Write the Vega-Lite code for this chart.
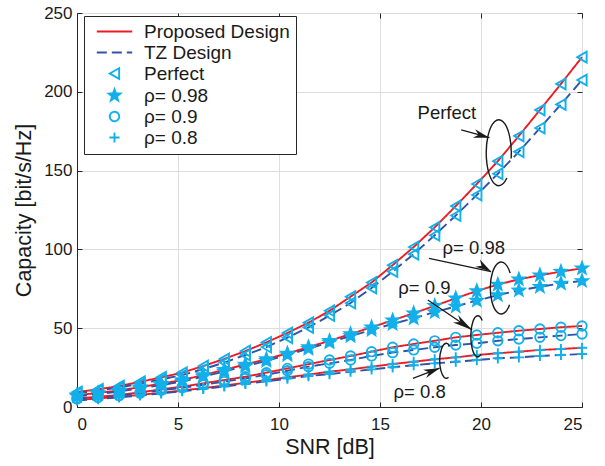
{
  "$schema": "https://vega.github.io/schema/vega-lite/v6.json",
  "width": 505,
  "height": 394,
  "autosize": "none",
  "padding": {"left": 77, "top": 13, "right": 23, "bottom": 59},
  "background": "white",
  "datasets": {
    "curves": [
      {"s":0,"c":9.5,"d":"Proposed Design","k":"Perfect"},{"s":1.042,"c":11.2,"d":"Proposed Design","k":"Perfect"},{"s":2.083,"c":13.3,"d":"Proposed Design","k":"Perfect"},{"s":3.125,"c":16,"d":"Proposed Design","k":"Perfect"},{"s":4.167,"c":18.8,"d":"Proposed Design","k":"Perfect"},{"s":5.208,"c":21.8,"d":"Proposed Design","k":"Perfect"},{"s":6.25,"c":26,"d":"Proposed Design","k":"Perfect"},{"s":7.292,"c":30.5,"d":"Proposed Design","k":"Perfect"},{"s":8.333,"c":35.5,"d":"Proposed Design","k":"Perfect"},{"s":9.375,"c":41,"d":"Proposed Design","k":"Perfect"},{"s":10.417,"c":47,"d":"Proposed Design","k":"Perfect"},{"s":11.458,"c":53.5,"d":"Proposed Design","k":"Perfect"},{"s":12.5,"c":61,"d":"Proposed Design","k":"Perfect"},{"s":13.542,"c":70,"d":"Proposed Design","k":"Perfect"},{"s":14.583,"c":79,"d":"Proposed Design","k":"Perfect"},{"s":15.625,"c":90,"d":"Proposed Design","k":"Perfect"},{"s":16.667,"c":101.5,"d":"Proposed Design","k":"Perfect"},{"s":17.708,"c":114,"d":"Proposed Design","k":"Perfect"},{"s":18.75,"c":127.5,"d":"Proposed Design","k":"Perfect"},{"s":19.792,"c":141.5,"d":"Proposed Design","k":"Perfect"},{"s":20.833,"c":156,"d":"Proposed Design","k":"Perfect"},{"s":21.875,"c":172,"d":"Proposed Design","k":"Perfect"},{"s":22.917,"c":188.5,"d":"Proposed Design","k":"Perfect"},{"s":23.958,"c":205,"d":"Proposed Design","k":"Perfect"},{"s":25,"c":222,"d":"Proposed Design","k":"Perfect"},
      {"s":0,"c":8.8,"d":"TZ Design","k":"Perfect"},{"s":1.042,"c":10.4,"d":"TZ Design","k":"Perfect"},{"s":2.083,"c":12.4,"d":"TZ Design","k":"Perfect"},{"s":3.125,"c":14.8,"d":"TZ Design","k":"Perfect"},{"s":4.167,"c":17.5,"d":"TZ Design","k":"Perfect"},{"s":5.208,"c":20.3,"d":"TZ Design","k":"Perfect"},{"s":6.25,"c":24,"d":"TZ Design","k":"Perfect"},{"s":7.292,"c":28.2,"d":"TZ Design","k":"Perfect"},{"s":8.333,"c":33,"d":"TZ Design","k":"Perfect"},{"s":9.375,"c":38,"d":"TZ Design","k":"Perfect"},{"s":10.417,"c":44,"d":"TZ Design","k":"Perfect"},{"s":11.458,"c":50.5,"d":"TZ Design","k":"Perfect"},{"s":12.5,"c":58,"d":"TZ Design","k":"Perfect"},{"s":13.542,"c":66,"d":"TZ Design","k":"Perfect"},{"s":14.583,"c":75.5,"d":"TZ Design","k":"Perfect"},{"s":15.625,"c":86,"d":"TZ Design","k":"Perfect"},{"s":16.667,"c":97,"d":"TZ Design","k":"Perfect"},{"s":17.708,"c":109,"d":"TZ Design","k":"Perfect"},{"s":18.75,"c":121.5,"d":"TZ Design","k":"Perfect"},{"s":19.792,"c":134.5,"d":"TZ Design","k":"Perfect"},{"s":20.833,"c":148,"d":"TZ Design","k":"Perfect"},{"s":21.875,"c":162,"d":"TZ Design","k":"Perfect"},{"s":22.917,"c":177,"d":"TZ Design","k":"Perfect"},{"s":23.958,"c":192,"d":"TZ Design","k":"Perfect"},{"s":25,"c":207.5,"d":"TZ Design","k":"Perfect"},
      {"s":0,"c":7.5,"d":"Proposed Design","k":"ρ= 0.98"},{"s":1.042,"c":8.9,"d":"Proposed Design","k":"ρ= 0.98"},{"s":2.083,"c":10.5,"d":"Proposed Design","k":"ρ= 0.98"},{"s":3.125,"c":12.6,"d":"Proposed Design","k":"ρ= 0.98"},{"s":4.167,"c":14.8,"d":"Proposed Design","k":"ρ= 0.98"},{"s":5.208,"c":17.1,"d":"Proposed Design","k":"ρ= 0.98"},{"s":6.25,"c":20.3,"d":"Proposed Design","k":"ρ= 0.98"},{"s":7.292,"c":23.6,"d":"Proposed Design","k":"ρ= 0.98"},{"s":8.333,"c":27,"d":"Proposed Design","k":"ρ= 0.98"},{"s":9.375,"c":30.4,"d":"Proposed Design","k":"ρ= 0.98"},{"s":10.417,"c":34,"d":"Proposed Design","k":"ρ= 0.98"},{"s":11.458,"c":38,"d":"Proposed Design","k":"ρ= 0.98"},{"s":12.5,"c":42,"d":"Proposed Design","k":"ρ= 0.98"},{"s":13.542,"c":46.3,"d":"Proposed Design","k":"ρ= 0.98"},{"s":14.583,"c":50.6,"d":"Proposed Design","k":"ρ= 0.98"},{"s":15.625,"c":55,"d":"Proposed Design","k":"ρ= 0.98"},{"s":16.667,"c":59.5,"d":"Proposed Design","k":"ρ= 0.98"},{"s":17.708,"c":64.2,"d":"Proposed Design","k":"ρ= 0.98"},{"s":18.75,"c":69,"d":"Proposed Design","k":"ρ= 0.98"},{"s":19.792,"c":73.6,"d":"Proposed Design","k":"ρ= 0.98"},{"s":20.833,"c":77.7,"d":"Proposed Design","k":"ρ= 0.98"},{"s":21.875,"c":81,"d":"Proposed Design","k":"ρ= 0.98"},{"s":22.917,"c":83.6,"d":"Proposed Design","k":"ρ= 0.98"},{"s":23.958,"c":85.9,"d":"Proposed Design","k":"ρ= 0.98"},{"s":25,"c":88,"d":"Proposed Design","k":"ρ= 0.98"},
      {"s":0,"c":6.8,"d":"TZ Design","k":"ρ= 0.98"},{"s":1.042,"c":8.2,"d":"TZ Design","k":"ρ= 0.98"},{"s":2.083,"c":9.8,"d":"TZ Design","k":"ρ= 0.98"},{"s":3.125,"c":11.8,"d":"TZ Design","k":"ρ= 0.98"},{"s":4.167,"c":13.9,"d":"TZ Design","k":"ρ= 0.98"},{"s":5.208,"c":16.2,"d":"TZ Design","k":"ρ= 0.98"},{"s":6.25,"c":19.3,"d":"TZ Design","k":"ρ= 0.98"},{"s":7.292,"c":22.5,"d":"TZ Design","k":"ρ= 0.98"},{"s":8.333,"c":25.9,"d":"TZ Design","k":"ρ= 0.98"},{"s":9.375,"c":29.3,"d":"TZ Design","k":"ρ= 0.98"},{"s":10.417,"c":33,"d":"TZ Design","k":"ρ= 0.98"},{"s":11.458,"c":37,"d":"TZ Design","k":"ρ= 0.98"},{"s":12.5,"c":41,"d":"TZ Design","k":"ρ= 0.98"},{"s":13.542,"c":45,"d":"TZ Design","k":"ρ= 0.98"},{"s":14.583,"c":48.9,"d":"TZ Design","k":"ρ= 0.98"},{"s":15.625,"c":52.7,"d":"TZ Design","k":"ρ= 0.98"},{"s":16.667,"c":56.3,"d":"TZ Design","k":"ρ= 0.98"},{"s":17.708,"c":60.2,"d":"TZ Design","k":"ρ= 0.98"},{"s":18.75,"c":63.8,"d":"TZ Design","k":"ρ= 0.98"},{"s":19.792,"c":67.5,"d":"TZ Design","k":"ρ= 0.98"},{"s":20.833,"c":71,"d":"TZ Design","k":"ρ= 0.98"},{"s":21.875,"c":74,"d":"TZ Design","k":"ρ= 0.98"},{"s":22.917,"c":76.3,"d":"TZ Design","k":"ρ= 0.98"},{"s":23.958,"c":78.4,"d":"TZ Design","k":"ρ= 0.98"},{"s":25,"c":80,"d":"TZ Design","k":"ρ= 0.98"},
      {"s":0,"c":5.5,"d":"Proposed Design","k":"ρ= 0.9"},{"s":1.042,"c":6.5,"d":"Proposed Design","k":"ρ= 0.9"},{"s":2.083,"c":7.6,"d":"Proposed Design","k":"ρ= 0.9"},{"s":3.125,"c":9.3,"d":"Proposed Design","k":"ρ= 0.9"},{"s":4.167,"c":11.2,"d":"Proposed Design","k":"ρ= 0.9"},{"s":5.208,"c":12.9,"d":"Proposed Design","k":"ρ= 0.9"},{"s":6.25,"c":15,"d":"Proposed Design","k":"ρ= 0.9"},{"s":7.292,"c":17.1,"d":"Proposed Design","k":"ρ= 0.9"},{"s":8.333,"c":19.2,"d":"Proposed Design","k":"ρ= 0.9"},{"s":9.375,"c":21.8,"d":"Proposed Design","k":"ρ= 0.9"},{"s":10.417,"c":24.5,"d":"Proposed Design","k":"ρ= 0.9"},{"s":11.458,"c":27.2,"d":"Proposed Design","k":"ρ= 0.9"},{"s":12.5,"c":29.8,"d":"Proposed Design","k":"ρ= 0.9"},{"s":13.542,"c":32.4,"d":"Proposed Design","k":"ρ= 0.9"},{"s":14.583,"c":35.1,"d":"Proposed Design","k":"ρ= 0.9"},{"s":15.625,"c":37.9,"d":"Proposed Design","k":"ρ= 0.9"},{"s":16.667,"c":40,"d":"Proposed Design","k":"ρ= 0.9"},{"s":17.708,"c":42,"d":"Proposed Design","k":"ρ= 0.9"},{"s":18.75,"c":44.2,"d":"Proposed Design","k":"ρ= 0.9"},{"s":19.792,"c":45.7,"d":"Proposed Design","k":"ρ= 0.9"},{"s":20.833,"c":47.1,"d":"Proposed Design","k":"ρ= 0.9"},{"s":21.875,"c":48.4,"d":"Proposed Design","k":"ρ= 0.9"},{"s":22.917,"c":49.5,"d":"Proposed Design","k":"ρ= 0.9"},{"s":23.958,"c":50.6,"d":"Proposed Design","k":"ρ= 0.9"},{"s":25,"c":51.4,"d":"Proposed Design","k":"ρ= 0.9"},
      {"s":0,"c":5.1,"d":"TZ Design","k":"ρ= 0.9"},{"s":1.042,"c":6.1,"d":"TZ Design","k":"ρ= 0.9"},{"s":2.083,"c":7.2,"d":"TZ Design","k":"ρ= 0.9"},{"s":3.125,"c":8.8,"d":"TZ Design","k":"ρ= 0.9"},{"s":4.167,"c":10.6,"d":"TZ Design","k":"ρ= 0.9"},{"s":5.208,"c":12.2,"d":"TZ Design","k":"ρ= 0.9"},{"s":6.25,"c":14.1,"d":"TZ Design","k":"ρ= 0.9"},{"s":7.292,"c":16.1,"d":"TZ Design","k":"ρ= 0.9"},{"s":8.333,"c":18.1,"d":"TZ Design","k":"ρ= 0.9"},{"s":9.375,"c":20.5,"d":"TZ Design","k":"ρ= 0.9"},{"s":10.417,"c":23,"d":"TZ Design","k":"ρ= 0.9"},{"s":11.458,"c":25.6,"d":"TZ Design","k":"ρ= 0.9"},{"s":12.5,"c":27.7,"d":"TZ Design","k":"ρ= 0.9"},{"s":13.542,"c":29.8,"d":"TZ Design","k":"ρ= 0.9"},{"s":14.583,"c":32.4,"d":"TZ Design","k":"ρ= 0.9"},{"s":15.625,"c":34.5,"d":"TZ Design","k":"ρ= 0.9"},{"s":16.667,"c":36.2,"d":"TZ Design","k":"ρ= 0.9"},{"s":17.708,"c":37.9,"d":"TZ Design","k":"ρ= 0.9"},{"s":18.75,"c":39.3,"d":"TZ Design","k":"ρ= 0.9"},{"s":19.792,"c":40.4,"d":"TZ Design","k":"ρ= 0.9"},{"s":20.833,"c":42,"d":"TZ Design","k":"ρ= 0.9"},{"s":21.875,"c":43.1,"d":"TZ Design","k":"ρ= 0.9"},{"s":22.917,"c":44.2,"d":"TZ Design","k":"ρ= 0.9"},{"s":23.958,"c":45.3,"d":"TZ Design","k":"ρ= 0.9"},{"s":25,"c":46.3,"d":"TZ Design","k":"ρ= 0.9"},
      {"s":0,"c":4.5,"d":"Proposed Design","k":"ρ= 0.8"},{"s":1.042,"c":5.4,"d":"Proposed Design","k":"ρ= 0.8"},{"s":2.083,"c":6.5,"d":"Proposed Design","k":"ρ= 0.8"},{"s":3.125,"c":7.7,"d":"Proposed Design","k":"ρ= 0.8"},{"s":4.167,"c":9,"d":"Proposed Design","k":"ρ= 0.8"},{"s":5.208,"c":10.5,"d":"Proposed Design","k":"ρ= 0.8"},{"s":6.25,"c":12,"d":"Proposed Design","k":"ρ= 0.8"},{"s":7.292,"c":13.6,"d":"Proposed Design","k":"ρ= 0.8"},{"s":8.333,"c":15.3,"d":"Proposed Design","k":"ρ= 0.8"},{"s":9.375,"c":17,"d":"Proposed Design","k":"ρ= 0.8"},{"s":10.417,"c":18.8,"d":"Proposed Design","k":"ρ= 0.8"},{"s":11.458,"c":20.6,"d":"Proposed Design","k":"ρ= 0.8"},{"s":12.5,"c":22.4,"d":"Proposed Design","k":"ρ= 0.8"},{"s":13.542,"c":23.9,"d":"Proposed Design","k":"ρ= 0.8"},{"s":14.583,"c":25.6,"d":"Proposed Design","k":"ρ= 0.8"},{"s":15.625,"c":27.3,"d":"Proposed Design","k":"ρ= 0.8"},{"s":16.667,"c":28.7,"d":"Proposed Design","k":"ρ= 0.8"},{"s":17.708,"c":30.3,"d":"Proposed Design","k":"ρ= 0.8"},{"s":18.75,"c":31.5,"d":"Proposed Design","k":"ρ= 0.8"},{"s":19.792,"c":33,"d":"Proposed Design","k":"ρ= 0.8"},{"s":20.833,"c":34.1,"d":"Proposed Design","k":"ρ= 0.8"},{"s":21.875,"c":35.1,"d":"Proposed Design","k":"ρ= 0.8"},{"s":22.917,"c":36.2,"d":"Proposed Design","k":"ρ= 0.8"},{"s":23.958,"c":36.8,"d":"Proposed Design","k":"ρ= 0.8"},{"s":25,"c":37.6,"d":"Proposed Design","k":"ρ= 0.8"},
      {"s":0,"c":4.2,"d":"TZ Design","k":"ρ= 0.8"},{"s":1.042,"c":5,"d":"TZ Design","k":"ρ= 0.8"},{"s":2.083,"c":6.1,"d":"TZ Design","k":"ρ= 0.8"},{"s":3.125,"c":7.3,"d":"TZ Design","k":"ρ= 0.8"},{"s":4.167,"c":8.6,"d":"TZ Design","k":"ρ= 0.8"},{"s":5.208,"c":10,"d":"TZ Design","k":"ρ= 0.8"},{"s":6.25,"c":11.5,"d":"TZ Design","k":"ρ= 0.8"},{"s":7.292,"c":13,"d":"TZ Design","k":"ρ= 0.8"},{"s":8.333,"c":14.6,"d":"TZ Design","k":"ρ= 0.8"},{"s":9.375,"c":16.3,"d":"TZ Design","k":"ρ= 0.8"},{"s":10.417,"c":18,"d":"TZ Design","k":"ρ= 0.8"},{"s":11.458,"c":19.6,"d":"TZ Design","k":"ρ= 0.8"},{"s":12.5,"c":20.9,"d":"TZ Design","k":"ρ= 0.8"},{"s":13.542,"c":22.4,"d":"TZ Design","k":"ρ= 0.8"},{"s":14.583,"c":23.9,"d":"TZ Design","k":"ρ= 0.8"},{"s":15.625,"c":25.2,"d":"TZ Design","k":"ρ= 0.8"},{"s":16.667,"c":26.5,"d":"TZ Design","k":"ρ= 0.8"},{"s":17.708,"c":27.7,"d":"TZ Design","k":"ρ= 0.8"},{"s":18.75,"c":28.7,"d":"TZ Design","k":"ρ= 0.8"},{"s":19.792,"c":29.8,"d":"TZ Design","k":"ρ= 0.8"},{"s":20.833,"c":30.9,"d":"TZ Design","k":"ρ= 0.8"},{"s":21.875,"c":31.5,"d":"TZ Design","k":"ρ= 0.8"},{"s":22.917,"c":32.4,"d":"TZ Design","k":"ρ= 0.8"},{"s":23.958,"c":33,"d":"TZ Design","k":"ρ= 0.8"},{"s":25,"c":33.6,"d":"TZ Design","k":"ρ= 0.8"}
    ],
    "ann": [
      {"label":"Perfect","tx":18.31,"ty":186.4,"ax":19.02,"ay":175.8,"hx":20.42,"hy":170.9,"ex":20.88,"ey":161.3},
      {"label":"ρ= 0.98","tx":19.64,"ty":100.9,"ax":17.43,"ay":94.3,"hx":20.5,"hy":85.9,"ex":21.0,"ey":75.5},
      {"label":"ρ= 0.9","tx":17.2,"ty":75.3,"ax":17.37,"ay":67.9,"hx":19.56,"hy":48.9,"ex":19.84,"ey":44.9},
      {"label":"ρ= 0.8","tx":16.96,"ty":9.7,"ax":16.63,"ay":18.2,"hx":17.95,"hy":24.6,"ex":18.28,"ey":29.3}
    ]
  },
  "resolve": {"axis": {"x": "independent", "y": "independent"}},
  "layer": [
    {
      "data": {"name": "curves"},
      "mark": {"type": "line", "strokeWidth": 1.9},
      "encoding": {
        "x": {"field": "s", "type": "quantitative", "scale": {"domain": [0, 25], "nice": false},
              "axis": {"orient": "bottom", "title": "SNR [dB]", "values": [0, 5, 10, 15, 20, 25], "grid": true, "tickSize": -5, "labelPadding": 14, "titlePadding": 4}},
        "y": {"field": "c", "type": "quantitative", "scale": {"domain": [0, 250], "nice": false, "zero": false},
              "axis": {"orient": "left", "title": "Capacity [bit/s/Hz]", "values": [0, 50, 100, 150, 200, 250], "grid": true, "tickSize": -5, "labelPadding": 10, "titlePadding": 8}},
        "stroke": {"field": "d", "type": "nominal", "legend": {"title": null},
                   "scale": {"domain": ["Proposed Design", "TZ Design", "Perfect", "ρ= 0.98", "ρ= 0.9", "ρ= 0.8"],
                             "range": ["#ec1c24", "#3152a5", "#12b0ea", "#12b0ea", "#12b0ea", "#12b0ea"]}},
        "strokeDash": {"field": "d", "type": "nominal", "legend": {"title": null},
                   "scale": {"domain": ["Proposed Design", "TZ Design", "Perfect", "ρ= 0.98", "ρ= 0.9", "ρ= 0.8"],
                             "range": [[1, 0], [10, 5], [1, 0], [1, 0], [1, 0], [1, 0]]}},
        "detail": {"field": "k", "type": "nominal"}
      }
    },
    {
      "data": {"name": "curves"},
      "mark": {"type": "point", "size": 115, "strokeWidth": 1.9, "opacity": 1},
      "encoding": {
        "x": {"field": "s", "type": "quantitative", "scale": {"domain": [0, 25], "nice": false},
              "axis": {"orient": "top", "title": null, "labels": false, "grid": false, "domain": false, "values": [0, 5, 10, 15, 20, 25], "tickSize": -5}},
        "y": {"field": "c", "type": "quantitative", "scale": {"domain": [0, 250], "nice": false, "zero": false},
              "axis": {"orient": "right", "title": null, "labels": false, "grid": false, "domain": false, "values": [0, 50, 100, 150, 200, 250], "tickSize": -5}},
        "shape": {"field": "k", "type": "nominal", "legend": {"title": null},
                  "scale": {"domain": ["Proposed Design", "TZ Design", "Perfect", "ρ= 0.98", "ρ= 0.9", "ρ= 0.8"],
                            "range": ["M-3.3,0H3.3", "M-3.3,0H3.3", "triangle-left",
                                      "M0,-1.15L0.28,-0.39L1.09,-0.355L0.455,0.148L0.675,0.93L0,0.48L-0.675,0.93L-0.455,0.148L-1.09,-0.355L-0.28,-0.39Z",
                                      "M0.88,0A0.88,0.88 0 1,1 -0.88,0A0.88,0.88 0 1,1 0.88,0Z",
                                      "M-0.95,0H0.95M0,-0.95V0.95"]}},
        "stroke": {"field": "k", "type": "nominal", "legend": {"title": null},
                   "scale": {"domain": ["Proposed Design", "TZ Design", "Perfect", "ρ= 0.98", "ρ= 0.9", "ρ= 0.8"],
                             "range": ["#ec1c24", "#3152a5", "#12b0ea", "#12b0ea", "#12b0ea", "#12b0ea"]}},
        "fill": {"field": "k", "type": "nominal", "legend": {"title": null},
                 "scale": {"domain": ["Proposed Design", "TZ Design", "Perfect", "ρ= 0.98", "ρ= 0.9", "ρ= 0.8"],
                           "range": ["transparent", "transparent", "transparent", "#12b0ea", "transparent", "transparent"]}}
      }
    },
    {
      "data": {"name": "ann"},
      "mark": {"type": "text", "font": "Liberation Sans", "fontSize": 18.5, "color": "#1a1a1a", "baseline": "middle", "align": "center"},
      "encoding": {
        "x": {"field": "tx", "type": "quantitative", "axis": null, "scale": {"domain": [0, 25], "nice": false}},
        "y": {"field": "ty", "type": "quantitative", "axis": null, "scale": {"domain": [0, 250], "nice": false, "zero": false}},
        "text": {"field": "label"}
      }
    },
    {
      "data": {"name": "ann"},
      "mark": {"type": "rule", "color": "#1a1a1a", "strokeWidth": 1.3},
      "encoding": {
        "x": {"field": "ax", "type": "quantitative", "axis": null, "scale": {"domain": [0, 25], "nice": false}},
        "y": {"field": "ay", "type": "quantitative", "axis": null, "scale": {"domain": [0, 250], "nice": false, "zero": false}},
        "x2": {"field": "hx"},
        "y2": {"field": "hy"}
      }
    },
    {
      "data": {"name": "ann"},
      "transform": [{"filter": "datum.label == 'Perfect'"}],
      "mark": {"type": "point", "filled": true, "color": "#1a1a1a", "size": 256, "angle": 15, "shape": "M0,0L-2,-0.55L-1.4,0L-2,0.55Z", "opacity": 1},
      "encoding": {
        "x": {"field": "hx", "type": "quantitative", "axis": null, "scale": {"domain": [0, 25], "nice": false}},
        "y": {"field": "hy", "type": "quantitative", "axis": null, "scale": {"domain": [0, 250], "nice": false, "zero": false}}
      }
    },
    {
      "data": {"name": "ann"},
      "transform": [{"filter": "datum.label == 'ρ= 0.98'"}],
      "mark": {"type": "point", "filled": true, "color": "#1a1a1a", "size": 256, "angle": 32, "shape": "M0,0L-2,-0.55L-1.4,0L-2,0.55Z", "opacity": 1},
      "encoding": {
        "x": {"field": "hx", "type": "quantitative", "axis": null, "scale": {"domain": [0, 25], "nice": false}},
        "y": {"field": "hy", "type": "quantitative", "axis": null, "scale": {"domain": [0, 250], "nice": false, "zero": false}}
      }
    },
    {
      "data": {"name": "ann"},
      "transform": [{"filter": "datum.label == 'ρ= 0.9'"}],
      "mark": {"type": "point", "filled": true, "color": "#1a1a1a", "size": 400, "angle": 34, "shape": "M0,0L-2,-0.45L-1.4,0L-2,0.45Z", "opacity": 1},
      "encoding": {
        "x": {"field": "hx", "type": "quantitative", "axis": null, "scale": {"domain": [0, 25], "nice": false}},
        "y": {"field": "hy", "type": "quantitative", "axis": null, "scale": {"domain": [0, 250], "nice": false, "zero": false}}
      }
    },
    {
      "data": {"name": "ann"},
      "transform": [{"filter": "datum.label == 'ρ= 0.8'"}],
      "mark": {"type": "point", "filled": true, "color": "#1a1a1a", "size": 256, "angle": -20.5, "shape": "M0,0L-2,-0.55L-1.4,0L-2,0.55Z", "opacity": 1},
      "encoding": {
        "x": {"field": "hx", "type": "quantitative", "axis": null, "scale": {"domain": [0, 25], "nice": false}},
        "y": {"field": "hy", "type": "quantitative", "axis": null, "scale": {"domain": [0, 250], "nice": false, "zero": false}}
      }
    },
    {
      "data": {"name": "ann"},
      "transform": [{"filter": "datum.label == 'Perfect'"}],
      "mark": {"type": "point", "filled": false, "color": "#1a1a1a", "strokeWidth": 1.4, "size": 4356, "shape": "M0.244,0.766A0.38,1 0 1,1 0.374,0.174", "opacity": 1},
      "encoding": {
        "x": {"field": "ex", "type": "quantitative", "axis": null, "scale": {"domain": [0, 25], "nice": false}},
        "y": {"field": "ey", "type": "quantitative", "axis": null, "scale": {"domain": [0, 250], "nice": false, "zero": false}}
      }
    },
    {
      "data": {"name": "ann"},
      "transform": [{"filter": "datum.label == 'ρ= 0.98'"}],
      "mark": {"type": "point", "filled": false, "color": "#1a1a1a", "strokeWidth": 1.4, "size": 2704, "shape": "M0.322,0.643A0.42,1 0 1,1 0.344,-0.574", "opacity": 1},
      "encoding": {
        "x": {"field": "ex", "type": "quantitative", "axis": null, "scale": {"domain": [0, 25], "nice": false}},
        "y": {"field": "ey", "type": "quantitative", "axis": null, "scale": {"domain": [0, 250], "nice": false, "zero": false}}
      }
    },
    {
      "data": {"name": "ann"},
      "transform": [{"filter": "datum.label == 'ρ= 0.9'"}],
      "mark": {"type": "point", "filled": false, "color": "#1a1a1a", "strokeWidth": 1.4, "size": 1681, "shape": "M0.17,0.866A0.34,1 0 1,1 0.219,-0.766", "opacity": 1},
      "encoding": {
        "x": {"field": "ex", "type": "quantitative", "axis": null, "scale": {"domain": [0, 25], "nice": false}},
        "y": {"field": "ey", "type": "quantitative", "axis": null, "scale": {"domain": [0, 250], "nice": false, "zero": false}}
      }
    },
    {
      "data": {"name": "ann"},
      "transform": [{"filter": "datum.label == 'ρ= 0.8'"}],
      "mark": {"type": "point", "filled": false, "color": "#1a1a1a", "strokeWidth": 1.4, "size": 1225, "shape": "M0.127,0.94A0.37,1 0 1,1 0.185,-0.866", "opacity": 1},
      "encoding": {
        "x": {"field": "ex", "type": "quantitative", "axis": null, "scale": {"domain": [0, 25], "nice": false}},
        "y": {"field": "ey", "type": "quantitative", "axis": null, "scale": {"domain": [0, 250], "nice": false, "zero": false}}
      }
    }
  ],
  "config": {
    "font": "Liberation Sans",
    "view": {"stroke": "#262626", "strokeWidth": 1},
    "axis": {
      "labelFont": "Liberation Sans", "labelFontSize": 17, "labelColor": "#1a1a1a",
      "titleFont": "Liberation Sans", "titleFontSize": 21.5, "titleFontWeight": "normal", "titleColor": "#1a1a1a",
      "domainColor": "#262626", "tickColor": "#262626", "gridColor": "#dedede", "gridWidth": 1, "grid": false
    },
    "legend": {
      "orient": "none", "legendX": 7, "legendY": 3, "padding": 6,
      "strokeColor": "#262626", "fillColor": "white",
      "labelFont": "Liberation Sans", "labelFontSize": 19, "labelColor": "#1a1a1a",
      "symbolSize": 115, "symbolStrokeWidth": 1.9, "symbolOffset": 15, "labelOffset": 20, "rowPadding": 1
    }
  }
}
